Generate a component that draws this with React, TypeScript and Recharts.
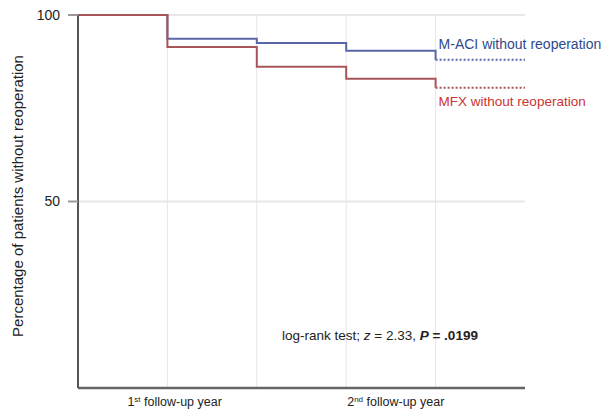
import React from "react";
import { CartesianGrid, Line, LineChart, ReferenceLine, XAxis, YAxis } from "recharts";

// time in half-year steps from surgery
const timePoints = [0, 1, 2, 3, 4, 5];
const maciSurvival = [100, 93.6, 92.5, 90.4, 88.0, null];
const mfxSurvival = [100, 91.4, 86.1, 82.9, 80.5, null];
const maciCensored = [null, null, null, null, 88.0, 88.0];
const mfxCensored = [null, null, null, null, 80.5, 80.5];
const gridTicks = [1, 2, 3, 4];
const yTicks = [50, 100];
const xLabels: Record<number, string[]> = { 1: ["1", "st", " follow-up year"], 3: ["2", "nd", " follow-up year"] };

const data = timePoints.map((t, i) => ({
  t,
  maci: maciSurvival[i],
  mfx: mfxSurvival[i],
  maciTail: maciCensored[i],
  mfxTail: mfxCensored[i],
}));

const BLUE = "#5a67a6";
const RED = "#a8555a";
const FONT = "Liberation Sans, Arial";

const XTick = (props: any) => {
  const { x, y, payload } = props;
  const lbl = xLabels[payload.value];
  if (!lbl) return null;
  const dx = payload.value === 1 ? -40 : 1;
  return (
    <text x={x + dx} y={y + 18} fontSize={12.5} fill="#222" fontFamily={FONT} textAnchor="start">
      {lbl[0]}
      <tspan fontSize={8} dy={-4}>{lbl[1]}</tspan>
      <tspan dy={4}>{lbl[2]}</tspan>
    </text>
  );
};

const tailLabel = (text: string, color: string, dy: number, size: number) => (props: any) => {
  const { x, y, index } = props;
  if (index !== 4) return null;
  return (
    <text x={x + 3} y={y + dy} fontSize={size} fill={color} fontFamily={FONT}>
      {text}
    </text>
  );
};

export default function App() {
  return (
    <div style={{ position: "absolute", left: 0, top: 0, width: 601, height: 411, background: "#fff" }}>
      <LineChart width={601} height={411} data={data} margin={{ top: 15, right: 76, bottom: 0, left: 0 }}>
        <CartesianGrid stroke="#e8e8e8" strokeWidth={2} vertical={false} />
        {gridTicks.map((t) => (
          <ReferenceLine key={t} x={t} stroke="#e4e6ec" />
        ))}
        <XAxis
          dataKey="t"
          type="number"
          domain={[0, 5]}
          ticks={gridTicks}
          tickLine={false}
          tickSize={0}
          tickMargin={0}
          height={23}
          axisLine={{ stroke: "#666", strokeWidth: 2.5 }}
          tick={<XTick />}
        />
        <YAxis
          type="number"
          domain={[0, 100]}
          ticks={yTicks}
          width={78}
          tickSize={10}
          tickMargin={8}
          tickLine={{ stroke: "#999", strokeWidth: 2 }}
          axisLine={{ stroke: "#555", strokeWidth: 2 }}
          tick={{ fontSize: 14, fill: "#222", fontFamily: FONT }}
          label={() => (
            <text
              x={17}
              y={196}
              transform={`rotate(-90 17 196)`}
              textAnchor="middle"
              dominantBaseline="central"
              fontSize={15}
              fill="#222"
              fontFamily={FONT}
            >
              Percentage of patients without reoperation
            </text>
          )}
        />
        <Line dataKey="maci" type="stepAfter" stroke={BLUE} strokeWidth={2} dot={false} isAnimationActive={false} connectNulls={false} />
        <Line dataKey="mfx" type="stepAfter" stroke={RED} strokeWidth={2} dot={false} isAnimationActive={false} connectNulls={false} />
        <Line
          dataKey="maciTail"
          type="linear"
          stroke={BLUE}
          strokeWidth={2}
          strokeDasharray="2 2"
          dot={false}
          isAnimationActive={false}
          label={tailLabel("M-ACI without reoperation", "#2e4a8a", -11, 14)}
        />
        <Line
          dataKey="mfxTail"
          type="linear"
          stroke={RED}
          strokeWidth={2}
          strokeDasharray="2 2"
          dot={false}
          isAnimationActive={false}
          label={tailLabel("MFX without reoperation", "#cc3333", 18, 13.5)}
        />
      </LineChart>
      <div
        style={{
          position: "absolute",
          left: 282,
          top: 328,
          fontSize: 13.5,
          fontFamily: FONT,
          color: "#222",
          whiteSpace: "nowrap",
        }}
      >
        log-rank test; <i>z</i> = 2.33, <b><i>P</i> = .0199</b>
      </div>
    </div>
  );
}
